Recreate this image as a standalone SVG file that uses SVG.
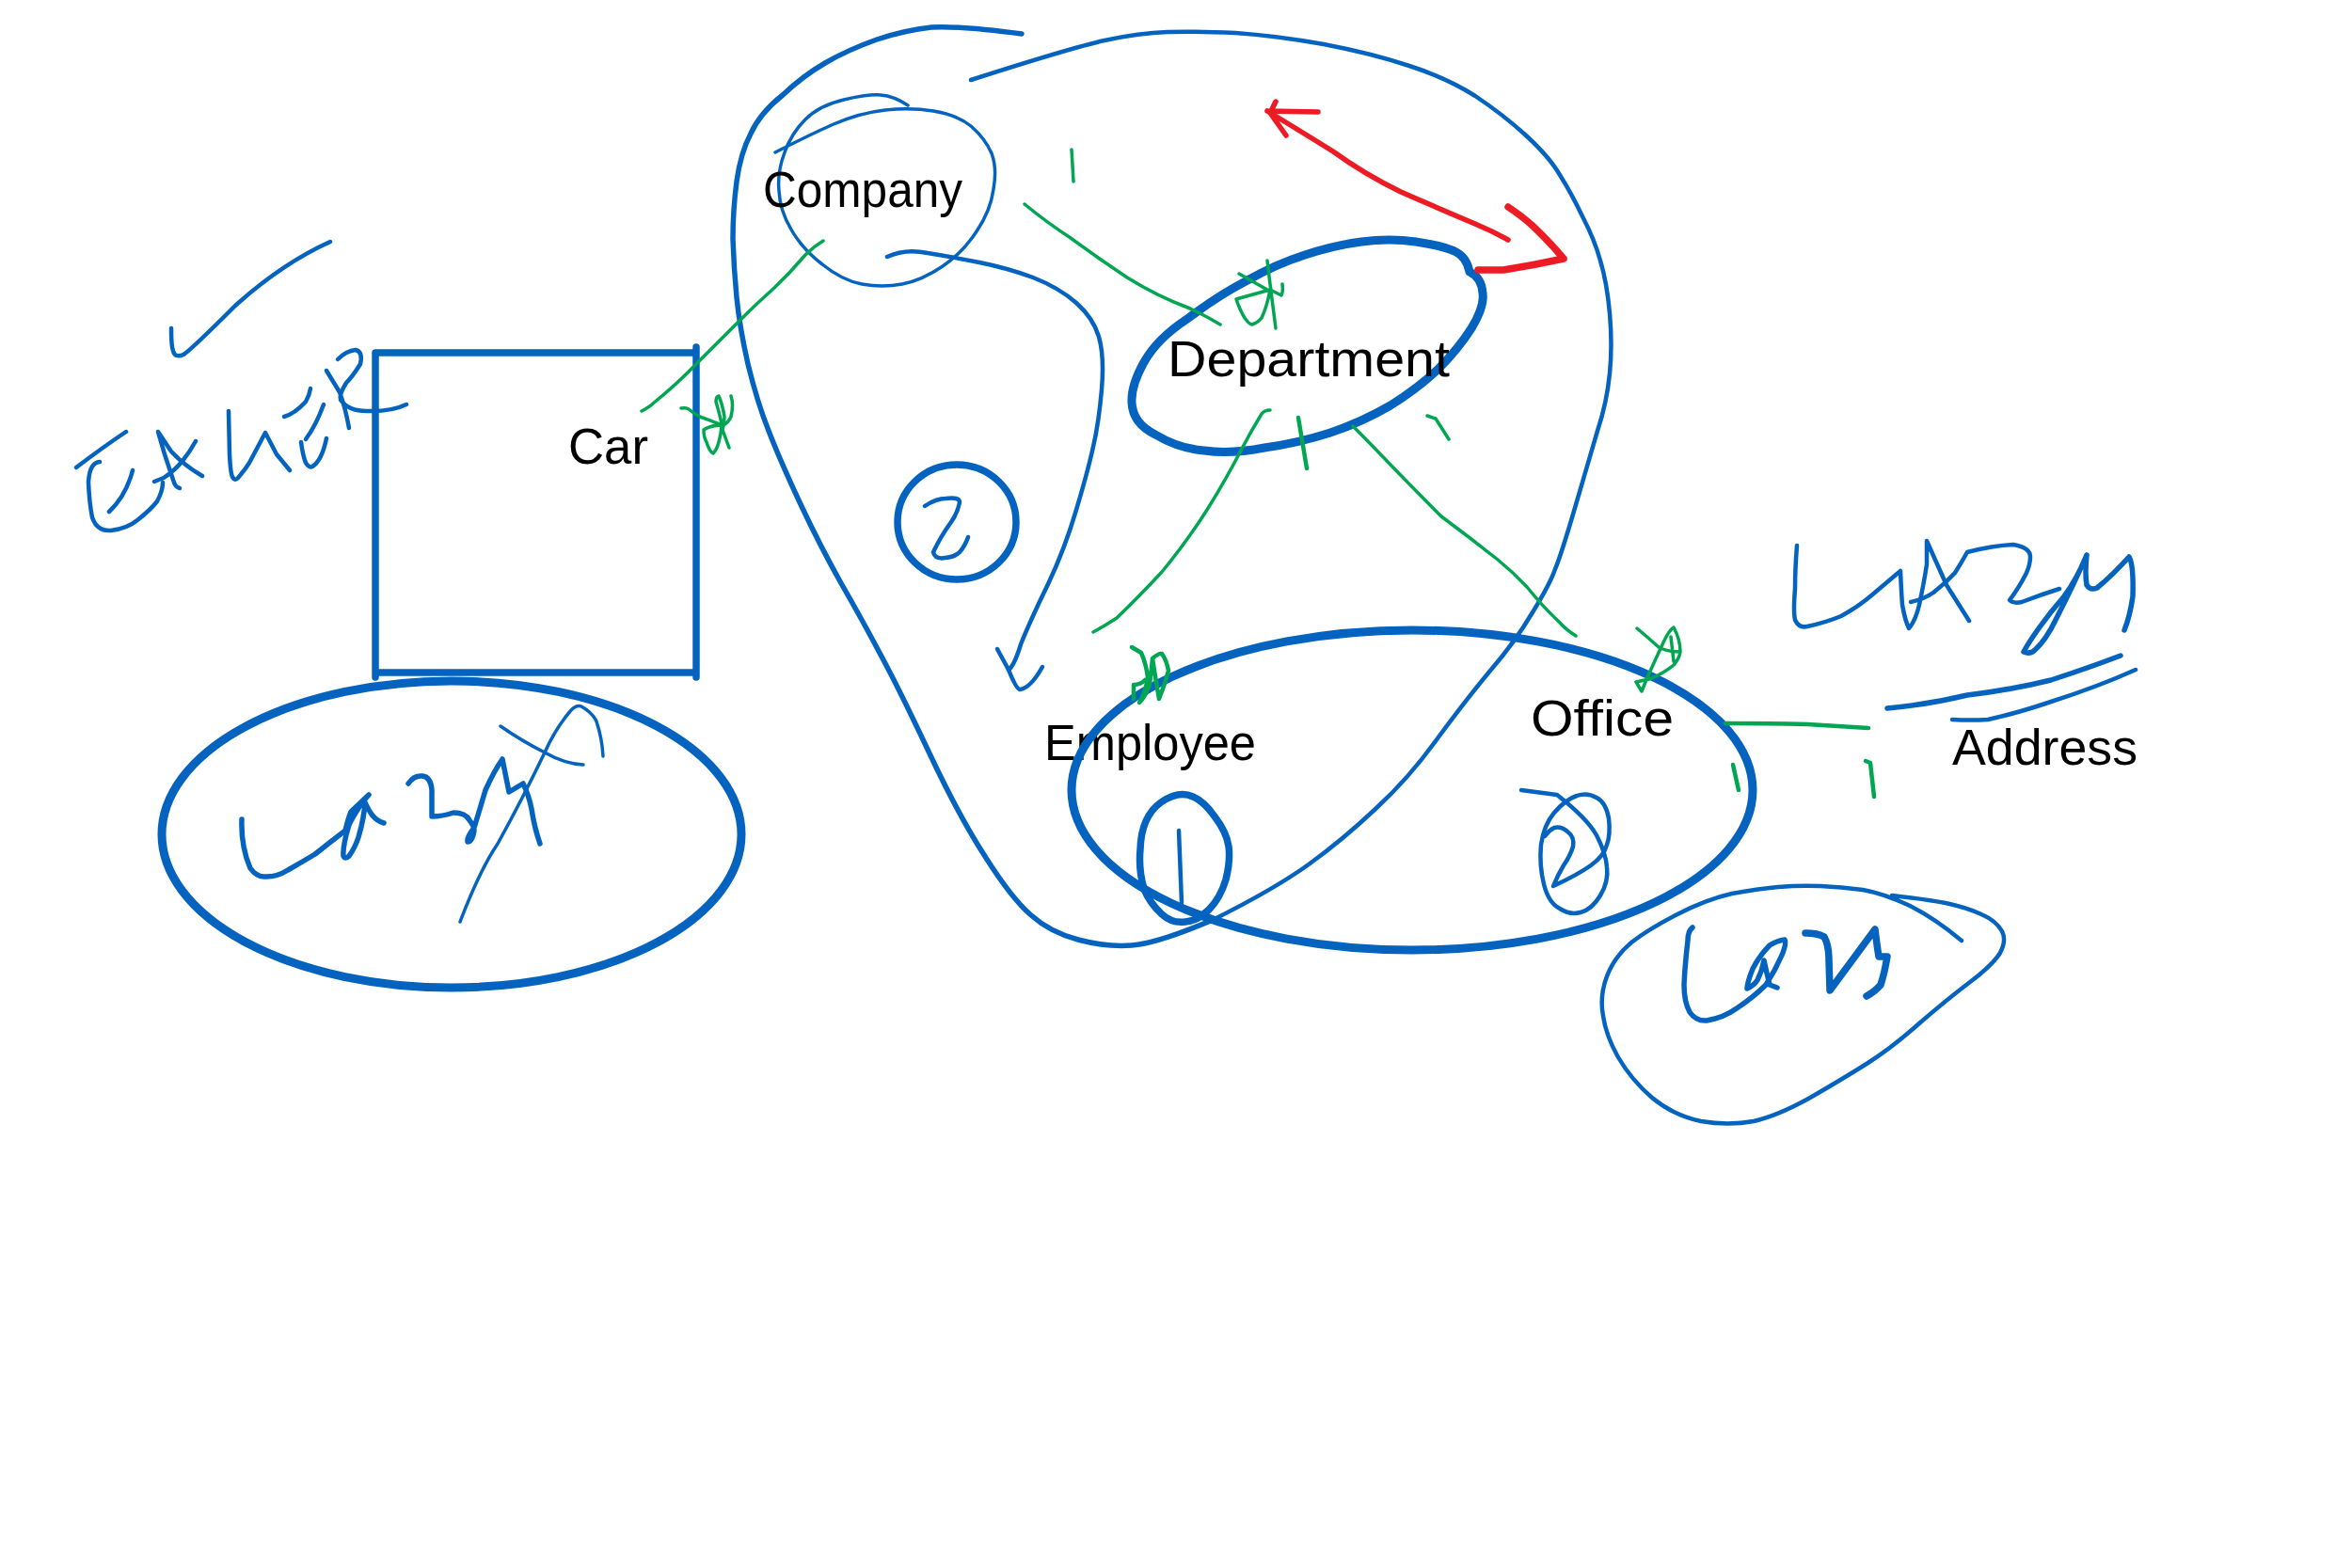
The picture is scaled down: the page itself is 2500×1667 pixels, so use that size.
<svg xmlns="http://www.w3.org/2000/svg" width="2500" height="1667" viewBox="0 0 2500 1667">
<style>
path,ellipse{fill:none;stroke-linecap:round;stroke-linejoin:round}
.b{stroke:#0563c0}.g{stroke:#00a651}.r{stroke:#ed1c24}
.w2{stroke-width:2.5}.w3{stroke-width:3.5}.w4{stroke-width:4.5}.w5{stroke-width:5.5}.w7{stroke-width:7.5}.w8{stroke-width:9}
text{font-family:"Liberation Sans",Arial,sans-serif;font-size:53px;fill:#000}
</style>
<rect width="2500" height="1667" fill="#fff"/>
<g id="note-eager">
<path class="b w4" d="M182 349Q182 368 184 373Q186 381 195 377Q203 372 250 325Q300 280 351 257"/>
<path class="b w4" d="M81 497Q110 475 134 459M106 491Q95 492 94 513Q95 535 98 550Q103 565 118 564Q135 562 146 553Q160 542 167 533Q173 522 173 513M141 500Q134 527 116 544"/>
<path class="b w4" d="M164 512L174 508Q186 500 194 490Q202 480 208 469M191 519Q186 518 184 510L175 483L168 459L182 480Q196 495 215 506"/>
<path class="b w4" d="M243 437L244 483Q245 503 247 507Q250 512 253 508Q260 500 265 492L282 460L294 483L308 500"/>
<path class="b w4" d="M302 443Q313 440 325 427Q329 420 330 413M325 467Q336 452 344 430M320 470Q322 485 325 492Q329 498 332 496Q342 490 347 466"/>
<path class="b w4" d="M359 382Q368 373 378 372Q386 374 383 387Q375 400 368 407Q360 420 362 425Q370 437 390 437Q415 438 432 430M347 394L361 417Q367 433 371 455"/>
</g>
<g id="node-car">
<path class="b w7" d="M399 375H740V715H399ZM740 369V379M740 710V720M399 710V720"/>
<text x="604" y="493" textLength="85" lengthAdjust="spacingAndGlyphs">Car</text>
</g>
<g id="note-lazy-car">
<ellipse class="b w8" cx="480" cy="887" rx="308" ry="163"/>
<path class="b w5" d="M257 871Q256 900 266 923Q273 933 283 932Q295 932 306 925Q320 917 335 908Q350 896 367 883Q370 870 373 863L392 845L385 853Q374 870 371 877Q364 900 365 910Q367 914 371 910Q377 902 381 890Q387 870 388 853Q392 862 396 867Q401 873 408 875"/>
<path class="b w5" d="M434 833Q440 824 449 825Q458 826 459 840L459 868Q470 868 482 864Q495 864 499 872Q504 878 504 883Q502 895 497 895Q496 890 504 880L516 840Q525 820 534 807L541 842L556 833Q562 845 565 860Q568 880 574 897"/>
<path class="b w3" d="M489 980Q510 925 529 897Q555 850 579 800Q590 775 607 755Q613 749 618 751Q630 758 634 767Q640 785 641 804M532 772Q555 788 579 800Q600 812 620 813"/>
</g>
<g id="node-company">
<path class="b w3" d="M824 162Q859 144 886 132Q914 120 941 117Q968 114 992 118Q1017 122 1032 134Q1047 147 1054 163Q1060 179 1056 201Q1053 224 1038 246Q1023 269 1002 283Q980 298 959 302Q938 306 916 302Q895 298 874 281Q853 265 841 244Q829 224 828 203Q826 183 834 162Q841 142 856 127Q871 112 897 106Q923 100 936 101Q950 102 965 112"/>
<text x="811" y="220" textLength="212" lengthAdjust="spacingAndGlyphs">Company</text>
</g>
<g id="node-department">
<path class="b w8" d="M1562 289Q1559 273 1546 267Q1532 261 1505 257Q1477 253 1447 257Q1417 261 1387 271Q1356 281 1326 298Q1295 314 1262 339Q1230 360 1216 385Q1202 410 1203 428Q1204 450 1228 462Q1253 477 1280 479Q1308 483 1344 476Q1380 471 1414 460Q1447 449 1478 431Q1508 412 1529 392Q1550 371 1564 349Q1578 326 1576 312Q1575 295 1562 289"/>
<text x="1241" y="400" textLength="300" lengthAdjust="spacingAndGlyphs">Department</text>
</g>
<g id="node-two">
<ellipse class="b w7" cx="1017" cy="555" rx="63" ry="61"/>
<path class="b w4" d="M983 538Q995 530 1005 530Q1020 528 1020 534Q1018 545 1011 555Q1000 570 992 587Q994 595 1005 593Q1015 592 1020 587Q1026 580 1029 571"/>
</g>
<g id="node-employee">
<text x="1110" y="808" textLength="225" lengthAdjust="spacingAndGlyphs">Employee</text>
<path class="b w7" d="M1212 903Q1213 868 1234 853Q1253 840 1268 847Q1280 852 1291 868Q1304 885 1306 900Q1308 915 1303 935Q1297 955 1285 967Q1273 979 1260 980Q1246 982 1235 972Q1222 960 1216 945Q1210 925 1212 903"/>
<path class="b w4" d="M1253 883L1256 960"/>
</g>
<g id="node-office">
<ellipse class="b w8" cx="1501" cy="840" rx="362" ry="170"/>
<text x="1627" y="782" textLength="152" lengthAdjust="spacingAndGlyphs">Office</text>
<path class="b w4" d="M1617 840L1655 845Q1687 870 1697 888Q1707 907 1708 922Q1710 937 1701 952Q1692 967 1680 970Q1669 973 1658 966Q1646 960 1641 940Q1636 920 1638 898Q1641 877 1652 864Q1664 850 1676 846Q1687 842 1697 848Q1707 853 1710 870Q1712 887 1708 898Q1705 910 1691 920Q1677 930 1651 942Q1656 930 1662 920Q1669 910 1672 900Q1674 890 1666 884Q1659 878 1652 880Q1646 883 1642 889"/>
</g>
<g id="node-address">
<path class="b w4" d="M1910 580Q1908 605 1908 626Q1906 650 1908 659Q1912 668 1921 666Q1940 662 1957 655Q1975 645 1988 634L2020 607Q2021 630 2022 643Q2025 660 2029 668Q2036 660 2040 643Q2045 620 2048 600L2048 575L2069 622L2093 660"/>
<path class="b w4" d="M2031 640Q2045 637 2055 630Q2068 620 2078 609Q2085 598 2091 587Q2118 580 2140 579Q2158 582 2158 592Q2158 600 2154 609Q2146 625 2136 638Q2140 642 2149 640Q2170 632 2189 626"/>
<path class="b w5" d="M2218 590Q2208 615 2194 634Q2180 650 2167 668Q2155 685 2151 693Q2158 696 2163 691Q2175 680 2185 659Q2205 620 2218 590Q2216 610 2218 622Q2222 628 2229 625Q2245 612 2263 592Q2268 600 2267 634Q2264 655 2258 670"/>
<path class="b w5" d="M2006 753Q2050 749 2091 739Q2140 733 2180 723Q2220 710 2254 697"/>
<path class="b w4" d="M2075 765Q2095 766 2113 765Q2145 758 2180 746Q2230 730 2270 712"/>
<text x="2075" y="813" textLength="197" lengthAdjust="spacingAndGlyphs">Address</text>
</g>
<g id="note-lazy-office">
<path class="b w4" d="M2085 1000Q2055 975 2028 962Q2002 950 1980 946Q1957 943 1935 942Q1913 941 1890 943Q1868 945 1841 950Q1814 956 1783 972Q1752 988 1734 1002Q1716 1017 1708 1038Q1700 1059 1704 1080Q1707 1101 1720 1124Q1734 1148 1756 1167Q1779 1186 1808 1192Q1837 1197 1864 1192Q1890 1186 1924 1167Q1957 1148 1984 1131Q2011 1114 2040 1088Q2069 1063 2094 1044Q2118 1026 2126 1013Q2133 1000 2128 990Q2122 979 2106 972Q2091 965 2068 960Q2046 956 2011 952"/>
<path class="b w5" d="M1799 986Q1794 990 1794 1000Q1791 1025 1790 1047Q1790 1065 1796 1076Q1803 1086 1814 1085Q1832 1082 1846 1072Q1864 1060 1877 1047Q1888 1030 1895 1013Q1899 1002 1897 999Q1889 1000 1881 1005Q1870 1016 1863 1030Q1857 1045 1857 1051Q1864 1048 1868 1042Q1873 1032 1875 1021Q1878 1035 1881 1047L1889 1050"/>
<path class="b w7" d="M1919 992Q1932 992 1939 996Q1944 1005 1944 1021L1945 1053L1993 988Q1995 1005 1997 1017L2006 1017Q2003 1035 1999 1047Q1993 1054 1984 1059"/>
</g>
<g id="connectors">
<path class="b w5" d="M1086 36Q1017 27 990 29Q962 32 932 42Q901 53 877 67Q853 81 832 101Q808 120 798 142Q787 163 783 193Q779 224 779 254Q780 285 783 316Q786 347 795 387Q805 428 817 458Q829 489 850 534Q871 579 894 620Q917 660 936 696Q956 733 988 801Q1020 869 1048 912Q1076 956 1096 973Q1116 991 1146 999Q1176 1007 1203 1005Q1230 1003 1289 978"/>
<path class="b w4" d="M1289 978Q1355 945 1391 919Q1427 893 1462 860Q1498 827 1528 785Q1559 743 1584 713Q1610 683 1629 651Q1648 620 1653 605Q1659 591 1674 540Q1689 489 1698 458Q1708 428 1711 397Q1714 367 1711 333Q1708 300 1701 277Q1695 255 1682 230Q1670 205 1658 186Q1647 167 1622 144Q1598 122 1568 102Q1538 83 1498 70Q1459 57 1407 47Q1356 38 1313 35Q1271 33 1241 34Q1211 35 1174 43Q1138 51 1032 85"/>
<path class="b w4" d="M943 273Q962 264 986 269Q1011 273 1041 279Q1071 285 1098 295Q1126 306 1144 322Q1162 338 1168 358Q1174 379 1171 414Q1168 449 1162 475Q1156 502 1144 542Q1132 583 1114 621Q1095 660 1085 685Q1078 708 1072 712"/>
<path class="b w4" d="M1060 690L1072 712Q1080 732 1084 733Q1095 732 1108 709"/>
<path class="g w3" d="M682 437Q690 433 694 429Q720 408 740 387Q765 362 787 340Q805 322 823 306Q840 290 856 271Q865 262 875 256"/>
<path class="g w3" d="M724 434Q730 433 732 435Q738 440 744 443L768 452Q755 452 748 457Q748 465 751 470Q754 480 758 482Q762 478 764 470Q767 458 767 450Q764 437 761 427Q761 422 764 421Q768 430 770 443Q770 450 768 457L775 476M777 421Q780 430 777 443Q774 450 767 453"/>
<path class="g w3" d="M1089 217Q1112 236 1138 253Q1168 275 1198 295Q1230 315 1265 328Q1282 336 1297 345"/>
<path class="g w3" d="M1139 159L1141 193"/>
<path class="g w3" d="M1356 349L1350 302L1347 277M1317 291L1347 308M1363 302Q1364 310 1362 314L1350 308L1314 318Q1318 330 1323 338Q1328 345 1331 345Q1337 343 1341 338Q1347 325 1350 308"/>
<path class="g w3" d="M1350 436Q1344 436 1341 440Q1330 458 1320 477Q1303 510 1283 542Q1260 578 1235 608Q1210 635 1187 657Q1175 665 1162 672"/>
<path class="g w4" d="M1380 444L1389 498"/>
<path class="g w3" d="M1517 442L1526 445L1540 467"/>
<path class="g w3" d="M1438 453Q1455 470 1477 493Q1505 522 1532 549Q1563 572 1592 595Q1608 608 1623 624Q1640 645 1656 660Q1665 670 1675 676"/>
<path class="g w4" d="M1203 688L1213 694Q1218 705 1220 720Q1218 735 1211 747Q1218 740 1222 727Q1224 712 1225 700Q1228 720 1232 743M1225 700Q1232 694 1235 695Q1240 702 1242 713Q1238 728 1232 743M1205 743V728Q1212 728 1217 723"/>
<path class="g w3" d="M1740 668Q1752 678 1763 688Q1772 693 1786 693Q1786 680 1779 667Q1774 670 1768 683L1751 720L1745 735L1739 725L1753 722Q1768 716 1779 707Q1785 700 1786 693M1776 677L1779 703"/>
<path class="g w4" d="M1834 769Q1880 769 1921 770L1986 774"/>
<path class="g w4" d="M1842 813L1848 840M1983 809L1988 811L1992 847"/>
<path class="r w5" d="M1603 255Q1587 246 1568 238Q1530 222 1489 204Q1450 185 1417 161Q1380 138 1347 118M1356 108L1350 120L1367 144M1347 118L1401 119"/>
<path class="r w7" d="M1603 220Q1618 230 1629 240Q1648 258 1662 275Q1630 282 1598 287L1571 287"/>
</g>
</svg>
